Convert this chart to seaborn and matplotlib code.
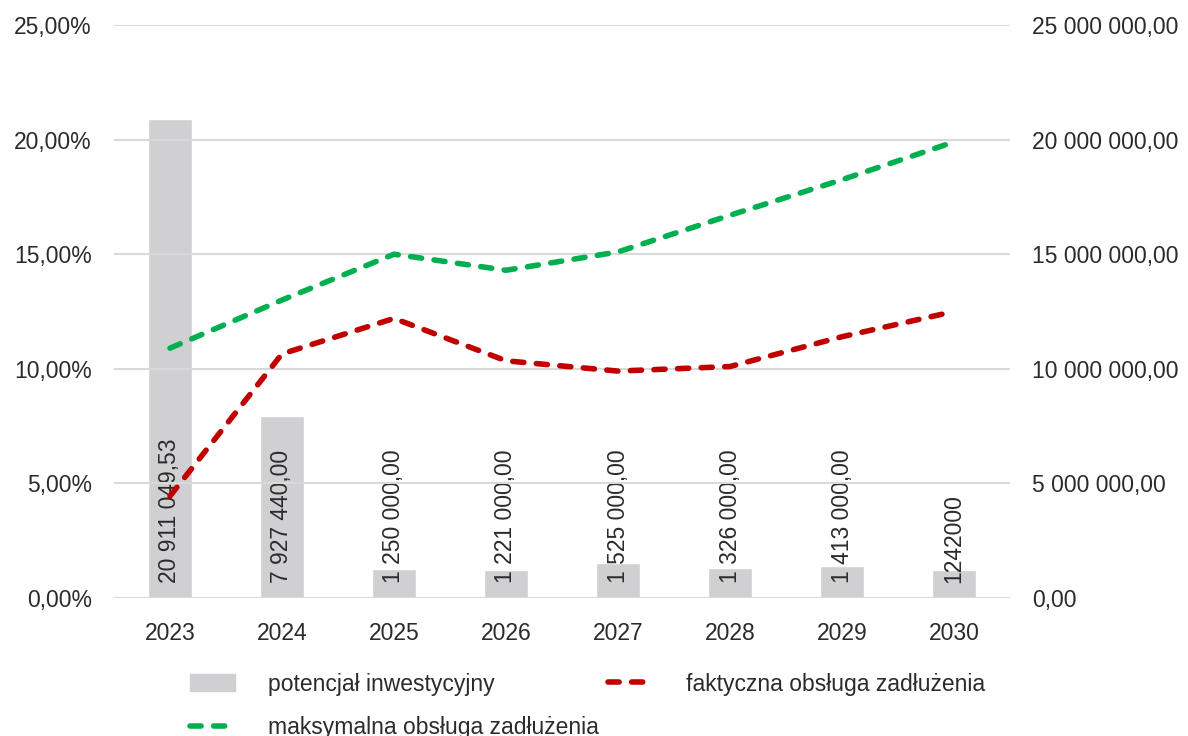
import numpy as np
import pandas as pd
import matplotlib
matplotlib.use('Agg')
import matplotlib.pyplot as plt
import seaborn as sns
from matplotlib.ticker import FuncFormatter, MultipleLocator
from matplotlib.patches import Patch
from matplotlib.lines import Line2D

# data
years = ['2023', '2024', '2025', '2026', '2027', '2028', '2029', '2030']
potencjal = [20911049.53, 7927440.00, 1250000.00, 1221000.00, 1525000.00, 1326000.00, 1413000.00, 1242000.00]
potencjal_labels = ['20 911 049,53', '7 927 440,00', '1 250 000,00', '1 221 000,00',
                    '1 525 000,00', '1 326 000,00', '1 413 000,00', '1242000']
faktyczna = [4.45, 10.65, 12.2, 10.35, 9.9, 10.1, 11.4, 12.5]
maksymalna = [10.9, 13.0, 15.0, 14.3, 15.1, 16.7, 18.25, 19.9]

sns.set_style('white')
plt.rcParams['font.family'] = ['Liberation Sans', 'DejaVu Sans']
txt = '#2b2b2b'
fs = 16.5
lw = 4.0
dash = (0, (2.0, 2.25))

df = pd.DataFrame({'rok': years, 'potencjal': potencjal,
                   'faktyczna': faktyczna, 'maksymalna': maksymalna})

fig = plt.figure(figsize=(11.88, 7.36), dpi=100)
ax = fig.add_axes([114 / 1188, 138 / 736, 896 / 1188, 573 / 736])
ax2 = ax.twinx()

# bars on the right axis
sns.barplot(data=df, x='rok', y='potencjal', color='#d0d0d2', width=0.4,
            saturation=1, ax=ax2, zorder=2)
for i, lab in enumerate(potencjal_labels):
    ax2.annotate(lab, xy=(i, 0), xytext=(0, 11), textcoords='offset points',
                 rotation=90, ha='center', va='bottom', fontsize=fs, color=txt)

# lines on the left axis
x = np.arange(len(years))
sns.lineplot(x=x, y=df['maksymalna'], ax=ax, color='#00b050', lw=lw)
sns.lineplot(x=x, y=df['faktyczna'], ax=ax, color='#c00000', lw=lw)
for ln in ax.lines:
    ln.set_linestyle(dash)
    ln.set_dash_capstyle('round')

ax.set_zorder(ax2.get_zorder() + 1)
ax.patch.set_visible(False)

ax.set_ylim(0, 25)
ax2.set_ylim(0, 25000000)
ax.set_xlim(-0.5, 7.5)
ax.yaxis.set_major_locator(MultipleLocator(5))
ax2.yaxis.set_major_locator(MultipleLocator(5000000))
ax.yaxis.set_major_formatter(FuncFormatter(lambda v, p: f'{v:.2f}'.replace('.', ',') + '%'))


def fmt_pln(v, p):
    s = f'{v:,.2f}'
    return s.replace(',', ' ').replace('.', ',')


ax2.yaxis.set_major_formatter(FuncFormatter(fmt_pln))
ax.set_xticks(x)
ax.set_xticklabels(years)
ax2.set_xlim(-0.5, 7.5)

ax2.grid(False)
ax.grid(axis='y', color='#d9d9d9', lw=1.5, zorder=0)
ax.set_axisbelow(True)
for a in (ax, ax2):
    for s in a.spines.values():
        s.set_visible(False)
    a.tick_params(length=0, labelsize=fs, colors=txt)
    a.set_xlabel('')
    a.set_ylabel('')
ax.tick_params(axis='y', pad=16)
ax2.tick_params(axis='y', pad=16)
ax.tick_params(axis='x', pad=17)

# legend (column-major fill to get the reference row order)
handles = [Patch(color='#d0d0d2'),
           Line2D([], [], color='#00b050', lw=lw, ls=dash, dash_capstyle='round'),
           Line2D([], [], color='#c00000', lw=lw, ls=dash, dash_capstyle='round')]
labels = ['potencjał inwestycyjny', 'maksymalna obsługa zadłużenia',
          'faktyczna obsługa zadłużenia']
fig.legend(handles, labels, loc='upper left', bbox_to_anchor=(169 / 1188, 1 - 652 / 736),
           ncol=2, frameon=False, fontsize=fs, labelcolor=txt, handlelength=2.0,
           handletextpad=1.4, columnspacing=0.4, labelspacing=0.9,
           handleheight=0.8)

fig.savefig('out.png', dpi=100)
